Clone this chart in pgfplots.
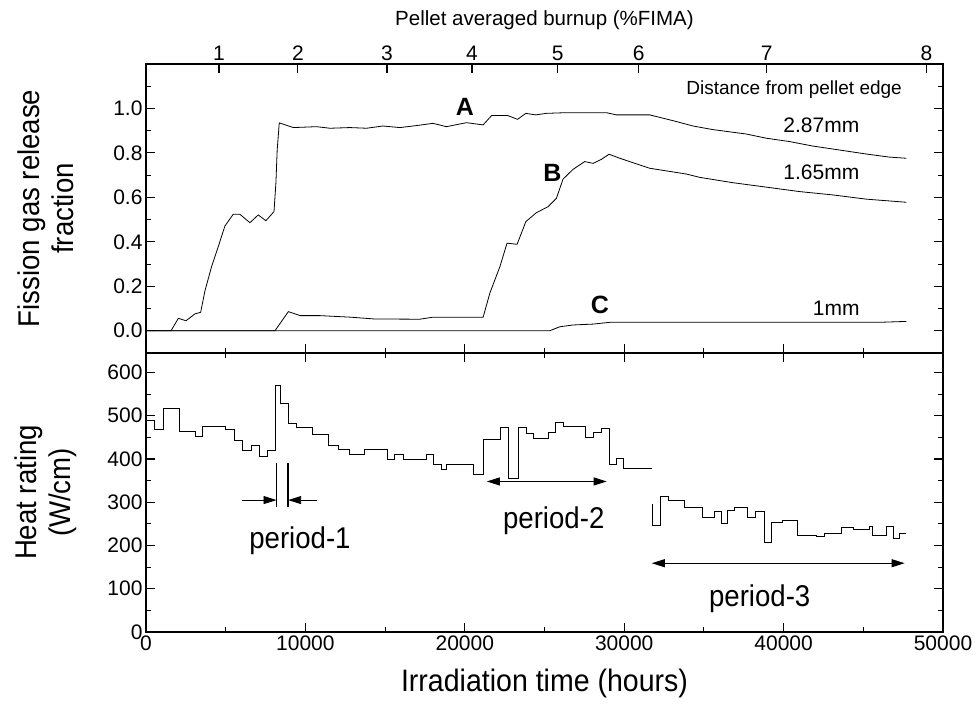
\documentclass[border=0pt]{standalone}
\usepackage{pgfplots}
\pgfplotsset{compat=1.18}
\usepackage{fontspec}
\setmainfont{Liberation Sans}
\newfontfamily\narrowfont[FakeStretch=0.92]{Liberation Sans}
\usetikzlibrary{arrows.meta}

\pgfplotstableread{
t v
0 0
1570 0
2030 0.056
2510 0.045
3070 0.076
3430 0.083
3700 0.18
4120 0.29
4540 0.38
4950 0.471
5470 0.524
5890 0.524
6520 0.486
7040 0.521
7520 0.495
8030 0.536
8150 0.665
8230 0.813
8360 0.935
9240 0.914
10700 0.918
11540 0.911
12790 0.914
13840 0.911
14860 0.921
15930 0.914
16970 0.923
18000 0.933
18850 0.918
20110 0.936
21150 0.926
21680 0.968
22700 0.968
23310 0.951
23830 0.978
24450 0.971
25120 0.978
26380 0.981
28890 0.981
29510 0.971
31600 0.971
33060 0.945
34320 0.921
35550 0.905
37660 0.885
38920 0.866
40380 0.851
41820 0.831
43510 0.813
45190 0.795
46650 0.781
47700 0.776
}\curveA

\pgfplotstableread{
t v
0 0
8090 0
8930 0.086
9680 0.068
10930 0.068
12860 0.061
14330 0.053
17180 0.052
18000 0.061
21150 0.061
21570 0.169
22200 0.288
22650 0.394
23280 0.389
23830 0.491
24490 0.531
25220 0.558
25750 0.596
26160 0.682
26790 0.726
27520 0.761
28050 0.753
28570 0.771
29050 0.794
29720 0.776
31600 0.731
33900 0.705
34740 0.690
36820 0.666
38920 0.646
41010 0.626
43090 0.611
45190 0.592
47700 0.578
}\curveB

\pgfplotstableread{
t v
0 0
25330 0
25960 0.018
26790 0.026
28050 0.030
29100 0.038
46000 0.038
47700 0.042
}\curveC

\pgfplotstableread{
t v
0 490
500 468
1090 516
2070 464
3070 453
3530 476
5000 468
5520 443
6060 420
6630 431
7110 406
7610 420
8130 570
8440 529
8920 483
9450 472
10450 457
11470 432
12100 422
12730 410
13670 422
15150 399
15610 410
16130 399
17600 410
18060 388
18540 376
18870 388
20520 364
21190 445
22240 472
22720 355
23340 472
23870 460
24330 447
25230 462
25710 484
26170 475
27570 449
28090 462
28570 470
29050 388
29510 401
29930 378
31750 378
}\heatA

\pgfplotstableread{
t v
31770 297
31770 247
32270 314
32750 305
33750 288
34880 266
35680 278
36100 252
36450 282
36930 288
37760 265
38250 278
38770 208
39230 253
39940 257
40860 224
42050 222
42570 228
43620 241
44350 237
45390 243
45540 224
46440 243
46900 216
47270 228
47700 228
}\heatB

\pgfplotsset{
  base/.style={
    scale only axis, width=797pt, xmin=0, xmax=50000,
    axis line style={line width=1.3pt},
    every tick/.append style={black, line width=1.1pt},
    major tick length=9pt, minor tick length=5pt,
    tick align=inside,
    tick label style={font=\fontsize{21}{23}\selectfont},
    /pgf/number format/assume math mode=true,
    scaled ticks=false,
    xticklabel style={/pgf/number format/set thousands separator={}},
  },
}

\begin{document}
\begin{tikzpicture}[x=1pt,y=1pt]
\path[use as bounding box] (-146pt,-76pt) rectangle (831pt,632pt);

% lower panel: heat rating
\begin{axis}[base, at={(0pt,0pt)}, anchor=south west, height=279pt,
  ymin=0, ymax=645,
  xtick={0,10000,...,50000}, minor x tick num=1,
  ytick={0,100,...,600}, minor y tick num=1,
]
\addplot[const plot, black, line width=0.8pt] table[x=t,y=v] {\heatA};
\addplot[const plot, black, line width=0.8pt] table[x=t,y=v] {\heatB};
% period-1
\draw[line width=1.6pt] (axis cs:8190,390) -- (axis cs:8190,290);
\draw[line width=1.6pt] (axis cs:8920,390) -- (axis cs:8920,290);
\draw[line width=0.9pt,-{Stealth[length=13pt,width=8pt,inset=0pt]}] (axis cs:6000,305) -- (axis cs:8190,305);
\draw[line width=0.9pt,-{Stealth[length=13pt,width=8pt,inset=0pt]}] (axis cs:10700,305) -- (axis cs:8920,305);
\node[font=\narrowfont\fontsize{30}{32}\selectfont] at (axis cs:9660,212) {period-1};
% period-2
\draw[line width=0.9pt,{Stealth[length=13pt,width=8pt,inset=0pt]}-{Stealth[length=13pt,width=8pt,inset=0pt]}] (axis cs:21380,348) -- (axis cs:28900,348);
\node[font=\narrowfont\fontsize{30}{32}\selectfont] at (axis cs:25580,258) {period-2};
% period-3
\draw[line width=0.9pt,{Stealth[length=13pt,width=8pt,inset=0pt]}-{Stealth[length=13pt,width=8pt,inset=0pt]}] (axis cs:31730,159) -- (axis cs:47590,159);
\node[font=\narrowfont\fontsize{30}{32}\selectfont] at (axis cs:38500,78) {period-3};
\end{axis}

% upper panel: fission gas release
\begin{axis}[base, at={(0pt,279pt)}, anchor=south west, height=289pt,
  ymin=-0.1, ymax=1.2,
  xtick={0,10000,...,50000}, minor x tick num=1, xtick pos=lower, xticklabels={},
  ytick={0,0.2,...,1.0}, minor ytick={-0.1,0.1,0.3,0.5,0.7,0.9,1.1},
  yticklabel style={/pgf/number format/.cd, fixed, fixed zerofill, precision=1},
]
\addplot[black, line width=0.8pt] table[x=t,y=v] {\curveA};
\addplot[black, line width=0.8pt] table[x=t,y=v] {\curveB};
\addplot[black, line width=0.8pt] table[x=t,y=v] {\curveC};
\node[font=\bfseries\fontsize{25}{27}\selectfont] at (axis cs:20000,1.008) {A};
\node[font=\bfseries\fontsize{25}{27}\selectfont] at (axis cs:25500,0.711) {B};
\node[font=\bfseries\fontsize{25}{27}\selectfont] at (axis cs:28470,0.116) {C};
\node[font=\fontsize{19}{21}\selectfont] at (axis cs:40660,1.083) {Distance from pellet edge};
\node[font=\fontsize{21}{23}\selectfont] at (axis cs:42370,0.926) {2.87mm};
\node[font=\fontsize{21}{23}\selectfont] at (axis cs:42370,0.711) {1.65mm};
\node[font=\fontsize{21}{23}\selectfont] at (axis cs:43300,0.100) {1mm};
\end{axis}

% top burnup axis
\begin{axis}[base, at={(0pt,279pt)}, anchor=south west, height=289pt,
  ymin=0, ymax=1, axis y line=none, axis x line*=top,
  xtick={4580,9530,15120,20450,25830,30910,38940,48970},
  xticklabels={1,2,3,4,5,6,7,8},
]
\end{axis}

\node[font=\fontsize{20.5}{22}\selectfont] at (398.5pt,612pt) {Pellet averaged burnup (\%FIMA)};
\node[font=\narrowfont\fontsize{31}{33}\selectfont] at (398.5pt,-51pt) {Irradiation time (hours)};
\node[rotate=90, align=center, font=\narrowfont\fontsize{30}{34}\selectfont] at (-100pt,423.5pt) {Fission gas release\\fraction};
\node[rotate=90, align=center, font=\narrowfont\fontsize{30}{34}\selectfont] at (-100pt,139.5pt) {Heat rating\\(W/cm)};
\end{tikzpicture}
\end{document}
